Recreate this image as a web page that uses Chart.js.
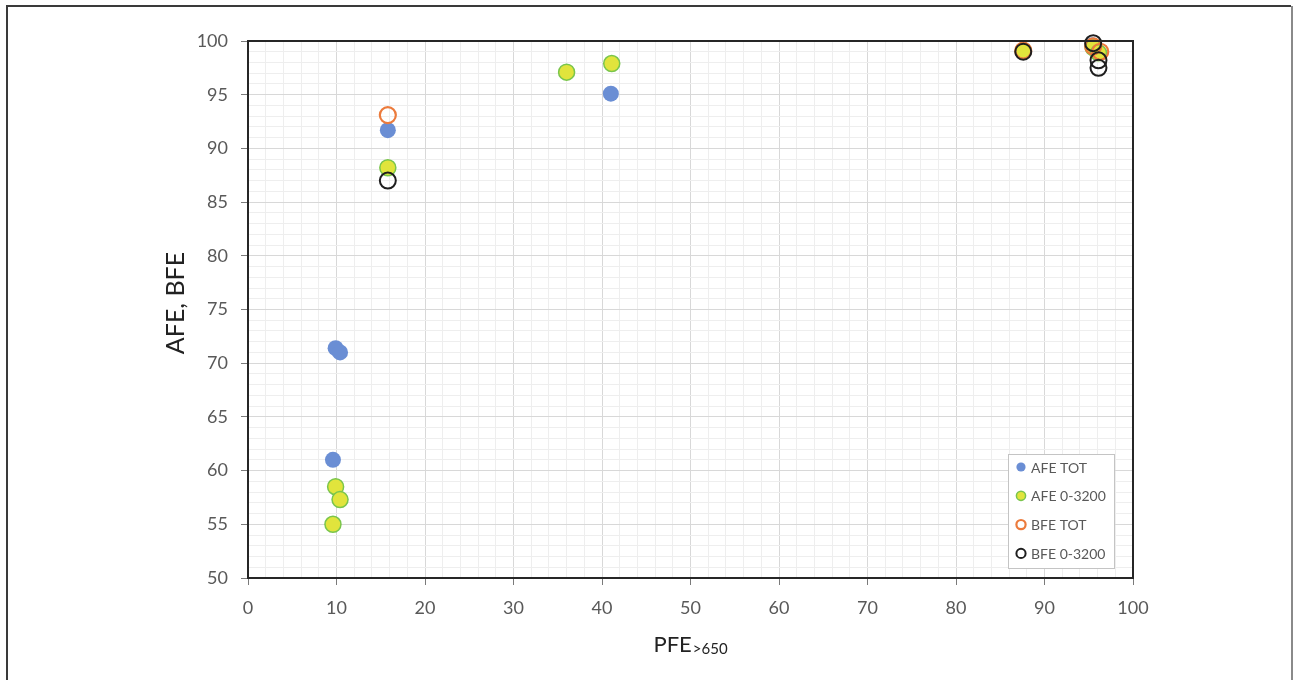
<!DOCTYPE html>
<html>
<head>
<meta charset="utf-8">
<script src="https://cdn.jsdelivr.net/npm/chart.js@4.4.1/dist/chart.umd.min.js"></script>
<style>
  html, body { margin: 0; padding: 0; background: #fff; }
  #wrap { position: relative; width: 1293px; height: 680px; }
</style>
</head>
<body>
<div id="wrap"><canvas id="c" width="1293" height="680"></canvas></div>
<script>
// Series names
const seriesNames = ['AFE TOT', 'AFE 0-3200', 'BFE TOT', 'BFE 0-3200'];

// AFE TOT
const afeTotX = [9.9, 10.4, 9.6, 15.8, 41.0, 87.6, 95.4, 96.0];
const afeTotY = [71.4, 71.0, 61.0, 91.7, 95.1, 99.0, 99.6, 98.9];

// AFE 0-3200
const afe3200X = [9.9, 10.4, 9.6, 15.8, 36.0, 41.1, 87.6, 95.5, 96.1];
const afe3200Y = [58.5, 57.3, 55.0, 88.2, 97.1, 97.9, 99.1, 99.4, 98.9];

// BFE TOT
const bfeTotX = [15.8, 87.6, 95.5, 96.3];
const bfeTotY = [93.1, 99.1, 99.5, 99.0];

// BFE 0-3200
const bfe3200X = [15.8, 87.6, 95.5, 96.1, 96.1];
const bfe3200Y = [87.0, 99.0, 99.8, 98.2, 97.5];

// Axis ranges
const xRange = [0, 100];
const yRange = [50, 100];
const xMajorStep = 10, xMinorStep = 2;
const yMajorStep = 5, yMinorStep = 1;

const axisTitleY = 'AFE, BFE';
const axisTitleX = 'PFE';
const axisTitleXSub = '>650';

const toPoints = (xs, ys) => xs.map((x, i) => ({ x: x, y: ys[i] }));

const FONT = 'Lato, "Open Sans", sans-serif';
const isMajor = (v, step) => Math.abs(v / step - Math.round(v / step)) < 1e-6;

const styles = [
  { bg: '#6a8ed4', border: '#6a8ed4', bw: 0, order: 4 },
  { bg: '#e1e43c', border: '#79c54c', bw: 1.5, order: 3 },
  { bg: 'rgba(255,255,255,0)', border: '#ec7b3c', bw: 2.2, order: 2 },
  { bg: 'rgba(255,255,255,0)', border: '#1e1e1e', bw: 2, order: 1 }
];

const seriesData = [
  toPoints(afeTotX, afeTotY),
  toPoints(afe3200X, afe3200Y),
  toPoints(bfeTotX, bfeTotY),
  toPoints(bfe3200X, bfe3200Y)
];

const datasets = seriesNames.map((name, i) => ({
  label: name,
  data: seriesData[i],
  backgroundColor: styles[i].bg,
  borderColor: styles[i].border,
  borderWidth: styles[i].bw,
  pointRadius: 8,
  pointHoverRadius: 8,
  order: styles[i].order,
  clip: false
}));

// Outer frame, plot border, axis titles and boxed legend
const decorations = {
  id: 'decorations',
  beforeDraw(chart) {
    const ctx = chart.ctx;
    ctx.save();
    ctx.fillStyle = '#ffffff';
    ctx.fillRect(0, 0, chart.width, chart.height);
    ctx.restore();
  },
  afterDraw(chart) {
    const ctx = chart.ctx;
    const a = chart.chartArea;
    ctx.save();
    // outer frame
    ctx.lineWidth = 2;
    ctx.strokeStyle = '#3a3a3a';
    ctx.beginPath();
    ctx.moveTo(7, chart.height + 2);
    ctx.lineTo(7, 6);
    ctx.lineTo(chart.width - 2, 6);
    ctx.stroke();
    ctx.strokeStyle = '#8a8a8a';
    ctx.beginPath();
    ctx.moveTo(chart.width - 1, 6);
    ctx.lineTo(chart.width - 1, chart.height + 2);
    ctx.stroke();

    // plot area border
    ctx.strokeStyle = '#262626';
    ctx.lineWidth = 2;
    ctx.strokeRect(a.left, a.top, a.right - a.left, a.bottom - a.top);

    // y-axis title
    ctx.fillStyle = '#222222';
    ctx.font = '25px ' + FONT;
    ctx.textAlign = 'center';
    ctx.textBaseline = 'middle';
    ctx.translate(176, 303);
    ctx.rotate(-Math.PI / 2);
    ctx.fillText(axisTitleY, 0, 0);
    ctx.setTransform(1, 0, 0, 1, 0, 0);

    // x-axis title with subscript
    ctx.textAlign = 'left';
    ctx.textBaseline = 'alphabetic';
    ctx.font = '22px ' + FONT;
    const w1 = ctx.measureText(axisTitleX).width;
    ctx.font = '15px ' + FONT;
    const w2 = ctx.measureText(axisTitleXSub).width;
    const startX = 690 - (w1 + w2) / 2;
    ctx.font = '22px ' + FONT;
    ctx.fillText(axisTitleX, startX, 652);
    ctx.font = '15px ' + FONT;
    ctx.fillText(axisTitleXSub, startX + w1 + 1, 654);

    // legend
    const lx = 1008.5, ly = 454.5, lw = 106, lh = 114;
    ctx.fillStyle = '#ffffff';
    ctx.fillRect(lx, ly, lw, lh);
    ctx.strokeStyle = '#c4c4c4';
    ctx.lineWidth = 1;
    ctx.strokeRect(lx, ly, lw, lh);
    ctx.font = '14px ' + FONT;
    ctx.textBaseline = 'middle';
    chart.data.datasets.forEach((ds, i) => {
      const cy = 467 + i * 28.8;
      ctx.beginPath();
      ctx.arc(1021, cy, 4.6, 0, Math.PI * 2);
      ctx.fillStyle = ds.backgroundColor;
      ctx.fill();
      if (ds.borderWidth > 0) {
        ctx.lineWidth = Math.min(ds.borderWidth, 2.2);
        ctx.strokeStyle = ds.borderColor;
        ctx.stroke();
      }
      ctx.fillStyle = '#595959';
      ctx.fillText(ds.label, 1031, cy + 1);
    });
    ctx.restore();
  }
};

new Chart(document.getElementById('c'), {
  type: 'scatter',
  data: { datasets: datasets },
  options: {
    responsive: false,
    animation: false,
    devicePixelRatio: 1,
    layout: { padding: { top: 41, right: 160, left: 0, bottom: 0 } },
    plugins: {
      legend: { display: false },
      tooltip: { enabled: false }
    },
    scales: {
      x: {
        type: 'linear',
        min: xRange[0],
        max: xRange[1],
        afterFit(scale) { scale.height = 102; },
        ticks: {
          stepSize: xMinorStep,
          autoSkip: false,
          maxRotation: 0,
          padding: 12,
          color: '#595959',
          font: { family: FONT, size: 18 },
          callback: (v) => isMajor(v, xMajorStep) ? String(v) : ''
        },
        grid: {
          color: (c) => isMajor(c.tick.value, xMajorStep) ? '#d8d8d8' : '#eeeeee',
          tickColor: (c) => isMajor(c.tick.value, xMajorStep) ? '#7a7a7a' : 'rgba(0,0,0,0)',
          tickLength: 7,
          lineWidth: 1
        },
        border: { display: true, color: '#262626', width: 2 }
      },
      y: {
        type: 'linear',
        min: yRange[0],
        max: yRange[1],
        afterFit(scale) { scale.width = 248; },
        ticks: {
          stepSize: yMinorStep,
          autoSkip: false,
          padding: 13,
          color: '#595959',
          font: { family: FONT, size: 18 },
          callback: (v) => isMajor(v, yMajorStep) ? String(v) : ''
        },
        grid: {
          color: (c) => isMajor(c.tick.value, yMajorStep) ? '#d8d8d8' : '#eeeeee',
          tickColor: (c) => isMajor(c.tick.value, yMajorStep) ? '#7a7a7a' : 'rgba(0,0,0,0)',
          tickLength: 7,
          lineWidth: 1
        },
        border: { display: true, color: '#262626', width: 2 }
      }
    }
  },
  plugins: [decorations]
});
</script>
</body>
</html>
